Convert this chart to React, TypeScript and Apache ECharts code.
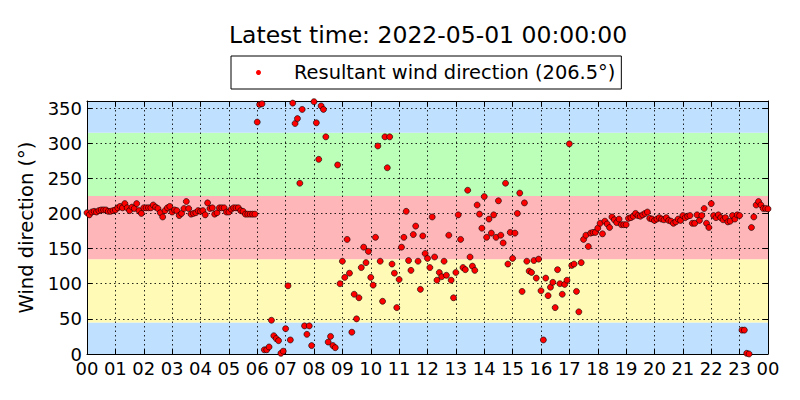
import React, { useEffect, useRef } from "react";
import * as echarts from "echarts";

const TITLE = "Latest time: 2022-05-01 00:00:00";
const Y_NAME = "Wind direction (°)";
const FONT = "DejaVu Sans";

// 5-minute samples from 00:00 to 24:00 (inclusive), degrees
const windDirection: number[] = [
  // 00h
  201, 198, 202, 203, 202, 204, 205, 205, 205, 203, 203, 204,
  // 01h
  205, 208, 210, 208, 214, 208, 204, 209, 207, 214, 204, 200,
  // 02h
  208, 208, 208, 208, 212, 209, 207, 201, 195, 204, 208, 210,
  // 03h
  202, 205, 204, 197, 200, 207, 217, 207, 199, 200, 201, 204,
  // 04h
  203, 204, 198, 215, 207, 208, 199, 201, 208, 208, 208, 202,
  // 05h
  202, 206, 208, 208, 208, 204, 203, 199, 199, 199, 199, 199,
  // 06h
  330, 355, 356, 6, 6, 10, 48, 26, 22, 19, 1, 4,
  // 07h
  36, 97, 20, 357, 328, 335, 243, 348, 40, 28, 40, 12,
  // 08h
  359, 329, 277, 353, 348, 309, 17, 25, 12, 9, 269, 100,
  // 09h
  132, 109, 163, 115, 31, 85, 50, 80, 123, 152, 130, 146,
  // 10h
  109, 98, 166, 296, 132, 75, 309, 265, 309, 128, 115, 66,
  // 11h
  106, 152, 166, 203, 133, 119, 170, 182, 132, 92, 168, 143,
  // 12h
  136, 123, 195, 138, 105, 116, 110, 132, 112, 169, 105, 80,
  // 13h
  116, 198, 163, 123, 120, 233, 138, 125, 119, 212, 199, 179,
  // 14h
  224, 166, 192, 172, 198, 166, 218, 169, 158, 243, 128, 173,
  // 15h
  136, 172, 200, 229, 89, 215, 132, 118, 116, 133, 108, 135,
  // 16h
  90, 20, 108, 83, 95, 102, 66, 120, 100, 85, 99, 105,
  // 17h
  299, 126, 128, 89, 60, 130, 163, 169, 153, 172, 173, 173,
  // 18h
  179, 186, 171, 189, 185, 180, 195, 191, 187, 192, 184, 184,
  // 19h
  184, 193, 194, 196, 200, 197, 196, 198, 200, 202, 193, 192,
  // 20h
  190, 192, 194, 192, 191, 194, 190, 189, 186, 188, 192, 190,
  // 21h
  197, 194, 196, 197, 186, 186, 198, 190, 197, 207, 186, 180,
  // 22h
  214, 197, 194, 198, 194, 191, 194, 188, 189, 197, 192, 198,
  // 23h
  197, 34, 34, 1, 0, 180, 195, 212, 217, 212, 207, 207,
  // 24:00
  206.5,
];

const STEP_HOURS = 5 / 60;
const X_MIN = 0;
const X_MAX = 24;
const Y_MIN = 0;
const Y_MAX = 360;
const Y_INTERVAL = 50;

// compass sector bands (deg) and colours
const bandEdges = [0, 45, 135, 225, 315, 360];
const bandColors = ["#bfe0ff", "#fffbb6", "#ffb6b9", "#bcffb9", "#bfe0ff"];

const latest = windDirection[windDirection.length - 1];
const SERIES_NAME = `Resultant wind direction (${latest.toFixed(1)}°)`;

const hourLabel = (v: number) => String(Math.round(v) % 24).padStart(2, "0");

export default function App() {
  const ref = useRef<HTMLDivElement>(null);

  useEffect(() => {
    if (!ref.current) return;
    const chart = echarts.init(ref.current, undefined, { renderer: "svg" });

    const points = windDirection.map((v, i) => [i * STEP_HOURS, v]);
    const bands = bandEdges.slice(0, -1).map((lo, i) => [lo, bandEdges[i + 1], i]);

    const gridLine = { show: true, lineStyle: { color: "#000", type: [1.5, 3], width: 1, opacity: 0.85 } };
    const tick = { show: true, inside: true, length: 5, lineStyle: { color: "#000", width: 1 } };
    const axisLine = { show: true, onZero: false, lineStyle: { color: "#000", width: 1 } };
    const labelStyle = { color: "#000", fontSize: 18, fontFamily: FONT, lineHeight: 14 };

    chart.setOption({
      animation: false,
      backgroundColor: "#fff",
      textStyle: { fontFamily: FONT },
      graphic: [
        {
          type: "text",
          x: 428,
          y: 35,
          style: {
            text: TITLE,
            fontSize: 23.5,
            fontFamily: FONT,
            fill: "#000",
            textAlign: "center",
            textVerticalAlign: "middle",
          },
        },
      ],
      legend: {
        left: 231,
        top: 56,
        padding: [7, 6, 7, 25],
        borderColor: "#000",
        borderWidth: 1,
        borderRadius: 0,
        backgroundColor: "#fff",
        itemWidth: 5,
        itemHeight: 5,
        icon: "circle",
        selectedMode: false,
        itemStyle: { color: "#ff0000", borderWidth: 0 },
        textStyle: { fontSize: 19.4, fontFamily: FONT, color: "#000", padding: [0, 0, 0, 28] },
        data: [SERIES_NAME],
      },
      grid: { left: 87, right: 32, top: 101, bottom: 46, show: false },
      xAxis: [
        {
          type: "value",
          min: X_MIN,
          max: X_MAX,
          interval: 1,
          position: "bottom",
          z: 3,
          axisLine,
          axisTick: tick,
          axisLabel: { ...labelStyle, margin: 7, formatter: hourLabel },
          splitLine: gridLine,
        },
        {
          type: "value",
          min: X_MIN,
          max: X_MAX,
          interval: 1,
          position: "top",
          z: 3,
          axisLine,
          axisTick: tick,
          axisLabel: { show: false },
          splitLine: { show: false },
        },
      ],
      yAxis: [
        {
          type: "value",
          min: Y_MIN,
          max: Y_MAX,
          interval: Y_INTERVAL,
          position: "left",
          z: 3,
          name: Y_NAME,
          nameLocation: "middle",
          nameGap: 49,
          nameTextStyle: { color: "#000", fontSize: 19.5, fontFamily: FONT },
          axisLine,
          axisTick: tick,
          axisLabel: { ...labelStyle, margin: 5, showMaxLabel: false },
          splitLine: gridLine,
        },
        {
          type: "value",
          min: Y_MIN,
          max: Y_MAX,
          interval: Y_INTERVAL,
          position: "right",
          z: 3,
          axisLine,
          axisTick: tick,
          axisLabel: { show: false },
          splitLine: { show: false },
        },
      ],
      series: [
        {
          type: "custom",
          name: "bands",
          z: 1,
          silent: true,
          xAxisIndex: 0,
          yAxisIndex: 0,
          data: bands,
          renderItem: (params: any, api: any) => {
            const lo = api.value(0);
            const hi = api.value(1);
            const idx = api.value(2);
            const p0 = api.coord([X_MIN, hi]);
            const p1 = api.coord([X_MAX, lo]);
            return {
              type: "rect",
              shape: { x: p0[0], y: p0[1], width: p1[0] - p0[0], height: p1[1] - p0[1] },
              style: { fill: bandColors[idx] },
            };
          },
          encode: { x: [], y: [0, 1] },
        },
        {
          type: "scatter",
          name: SERIES_NAME,
          z: 5,
          xAxisIndex: 0,
          yAxisIndex: 0,
          symbol: "circle",
          symbolSize: 6,
          itemStyle: { color: "#ff0000", borderColor: "rgba(0,0,0,0.75)", borderWidth: 0.8, opacity: 1 },
          data: points,
        },
      ],
    });

    return () => chart.dispose();
  }, []);

  return (
    <div
      ref={ref}
      style={{ position: "absolute", left: 0, top: 0, width: 800, height: 400 }}
    />
  );
}
